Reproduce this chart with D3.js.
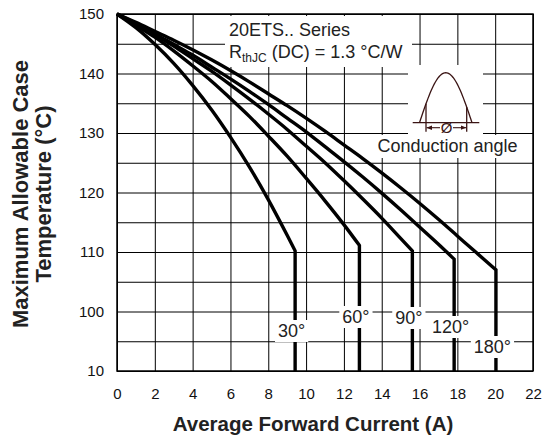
<!DOCTYPE html>
<html>
<head>
<meta charset="utf-8">
<script src="https://cdn.jsdelivr.net/npm/d3@7"></script>
<style>
  body { margin: 0; background: #fff; }
  svg { display: block; font-family: 'Liberation Sans', Arial, Helvetica, sans-serif; }
</style>
</head>
<body>
<div id="chart"></div>
<script>
// Conduction angles and the read-off curves (current in A, case temperature in °C).
const angles = ['30°', '60°', '90°', '120°', '180°'];

const current30 = [0, 1, 2, 3, 4, 5, 6, 7, 8, 9, 9.42];
const temp30 = [150, 147.7, 144.9, 141.7, 138.0, 133.9, 129.3, 124.3, 118.8, 112.8, 110.2];

const current60 = [0, 1, 2, 3, 4, 5, 6, 7, 8, 9, 10, 11, 12, 12.82];
const temp60 = [150, 148.1, 146.1, 143.8, 141.3, 138.7, 135.8, 132.8, 129.5, 126.1, 122.4, 118.6, 114.6, 111.1];

const current90 = [0, 1, 2, 3, 4, 5, 6, 7, 8, 9, 10, 11, 12, 13, 14, 15, 15.62];
const temp90 = [150, 148.3, 146.5, 144.6, 142.5, 140.4, 138.1, 135.7, 133.2, 130.6, 127.8, 125.0, 122.0, 118.9, 115.7, 112.3, 110.2];

const current120 = [0, 1, 2, 3, 4, 5, 6, 7, 8, 9, 10, 11, 12, 13, 14, 15, 16, 17, 17.83];
const temp120 = [150, 148.4, 146.7, 144.9, 143.1, 141.1, 139.1, 137.0, 134.8, 132.5, 130.2, 127.7, 125.2, 122.6, 119.9, 117.1, 114.2, 111.3, 108.8];

const current180 = [0, 1, 2, 3, 4, 5, 6, 7, 8, 9, 10, 11, 12, 13, 14, 15, 16, 17, 18, 19, 20.04];
const temp180 = [150, 148.6, 147.1, 145.6, 144.0, 142.3, 140.5, 138.6, 136.6, 134.6, 132.5, 130.3, 128.0, 125.7, 123.3, 120.8, 118.2, 115.5, 112.7, 109.9, 107.0];

const xTicks = [0, 2, 4, 6, 8, 10, 12, 14, 16, 18, 20, 22];
const yTicks = [90, 100, 110, 120, 130, 140, 150];
const yTickLabels = ['10', '100', '110', '120', '130', '140', '150'];

const seriesCurrent = [current30, current60, current90, current120, current180];
const seriesTemp = [temp30, temp60, temp90, temp120, temp180];

const W = 543, H = 447;
const pLeft = 117, pRight = 533, pTop = 14, pBottom = 371;

let svg = d3.select('#chart').append('svg')
    .attr('width', W)
    .attr('height', H);

svg.append('rect').attr('width', W).attr('height', H).attr('fill', '#fff');

let x = d3.scaleLinear().domain([0, 22]).range([pLeft, pRight]);
let y = d3.scaleLinear().domain([90, 150]).range([pBottom, pTop]);

// Grid
svg.append('g')
    .attr('class', 'grid')
    .attr('transform', 'translate(0,' + pBottom + ')')
    .call(d3.axisBottom(x).tickValues(d3.range(0, 23, 2)).tickSize(-(pBottom - pTop)).tickFormat(''))
    .call(g => g.select('.domain').remove());

svg.append('g')
    .attr('class', 'grid')
    .attr('transform', 'translate(' + pLeft + ',0)')
    .call(d3.axisLeft(y).tickValues(d3.range(90, 151, 5)).tickSize(-(pRight - pLeft)).tickFormat(''))
    .call(g => g.select('.domain').remove());

svg.selectAll('.grid line').attr('stroke', '#000').attr('stroke-width', 1);

// Frame
svg.append('rect')
    .attr('x', pLeft).attr('y', pTop)
    .attr('width', pRight - pLeft).attr('height', pBottom - pTop)
    .attr('fill', 'none').attr('stroke', '#000').attr('stroke-width', 1.5);

// Tick labels
let xAxis = svg.append('g')
    .attr('transform', 'translate(0,' + pBottom + ')')
    .call(d3.axisBottom(x).tickValues(xTicks).tickSize(0).tickPadding(17).tickFormat(d3.format('d')));
xAxis.select('.domain').remove();

let yAxis = svg.append('g')
    .attr('transform', 'translate(' + pLeft + ',0)')
    .call(d3.axisLeft(y).tickValues(yTicks).tickSize(0).tickPadding(13).tickFormat((d, i) => yTickLabels[i]));
yAxis.select('.domain').remove();

svg.selectAll('.tick text')
    .attr('font-family', "'Liberation Sans', Arial, sans-serif")
    .attr('font-size', 15)
    .attr('fill', '#111');

// Annotation boxes (white backgrounds over the grid)
svg.append('rect').attr('x', 225).attr('y', 16).attr('width', 187).attr('height', 51).attr('fill', '#fff');
svg.append('rect').attr('x', 408).attr('y', 65).attr('width', 75).attr('height', 70).attr('fill', '#fff');
svg.append('rect').attr('x', 370).attr('y', 135).attr('width', 155).attr('height', 23).attr('fill', '#fff');

// Curves
let line = d3.line()
    .x(d => x(d[0]))
    .y(d => y(d[1]))
    .curve(d3.curveMonotoneX);

seriesCurrent.forEach((cur, k) => {
  const pts = cur.map((c, i) => [c, seriesTemp[k][i]]);
  const last = pts[pts.length - 1];
  svg.append('path')
      .attr('d', line(pts) + 'L' + x(last[0]) + ',' + y(90))
      .attr('fill', 'none')
      .attr('stroke', '#000')
      .attr('stroke-width', 3.4)
      .attr('stroke-linejoin', 'miter');
});

// Angle labels on the vertical drops
const labelBase = [337, 323, 324, 333, 353];
angles.forEach((a, k) => {
  const cur = seriesCurrent[k];
  const cx = x(cur[cur.length - 1]) - 3.5;
  let g = svg.append('g');
  let t = g.append('text')
      .attr('x', cx).attr('y', labelBase[k])
      .attr('text-anchor', 'middle')
      .attr('font-size', 18)
      .attr('fill', '#222')
      .text(a);
  const bb = t.node().getBBox();
  g.insert('rect', 'text')
      .attr('x', bb.x - 3).attr('y', bb.y - 1)
      .attr('width', bb.width + 6).attr('height', bb.height + 2)
      .attr('fill', '#fff');
});

// Series text
svg.append('text')
    .attr('x', 229).attr('y', 36)
    .attr('font-size', 18).attr('fill', '#222')
    .text('20ETS.. Series');

let rth = svg.append('text')
    .attr('x', 229).attr('y', 58)
    .attr('font-size', 18).attr('fill', '#222');
rth.append('tspan').text('R');
rth.append('tspan').attr('font-size', 12).attr('dy', 4).text('thJC');
rth.append('tspan').attr('dy', -4).text(' (DC) = 1.3 °C/W');

// Conduction angle sketch
const wave = '#3a1414';
const wx0 = 419.5, wx1 = 472, wBase = 122.7, wAmp = 50;
let arc = d3.range(0, 1.0001, 0.02).map(t => [wx0 + t * (wx1 - wx0), wBase - wAmp * Math.sin(Math.PI * t)]);
svg.append('path')
    .attr('d', d3.line()(arc))
    .attr('fill', 'none').attr('stroke', wave).attr('stroke-width', 1.3);
svg.append('line')
    .attr('x1', 412.7).attr('x2', 479.3).attr('y1', wBase).attr('y2', wBase)
    .attr('stroke', wave).attr('stroke-width', 1.3);
[426, 466.7].forEach(cx => {
  const yy = wBase - wAmp * Math.sin(Math.PI * (cx - wx0) / (wx1 - wx0));
  svg.append('line')
      .attr('x1', cx).attr('x2', cx).attr('y1', yy).attr('y2', 131.7)
      .attr('stroke', wave).attr('stroke-width', 1.3);
});
svg.append('defs').append('marker')
    .attr('id', 'arr').attr('viewBox', '0 0 10 10')
    .attr('refX', 10).attr('refY', 5)
    .attr('markerWidth', 5).attr('markerHeight', 5)
    .attr('orient', 'auto')
    .append('path').attr('d', 'M0,1L10,5L0,9Z').attr('fill', wave);
svg.append('line')
    .attr('x1', 440).attr('x2', 426.5).attr('y1', 127.7).attr('y2', 127.7)
    .attr('stroke', wave).attr('stroke-width', 1.1).attr('marker-end', 'url(#arr)');
svg.append('line')
    .attr('x1', 453).attr('x2', 466.2).attr('y1', 127.7).attr('y2', 127.7)
    .attr('stroke', wave).attr('stroke-width', 1.1).attr('marker-end', 'url(#arr)');
svg.append('text')
    .attr('x', 446.5).attr('y', 133)
    .attr('text-anchor', 'middle')
    .attr('font-size', 15).attr('fill', wave)
    .text('Ø');

svg.append('text')
    .attr('x', 447.5).attr('y', 152)
    .attr('text-anchor', 'middle')
    .attr('font-size', 18).attr('fill', '#222')
    .text('Conduction angle');

// Axis titles
svg.append('text')
    .attr('x', 313).attr('y', 431)
    .attr('text-anchor', 'middle')
    .attr('font-size', 20.5).attr('font-weight', 'bold').attr('fill', '#222')
    .text('Average Forward Current (A)');

let yTitle = svg.append('text')
    .attr('transform', 'translate(0,194) rotate(-90)')
    .attr('text-anchor', 'middle')
    .attr('font-size', 22).attr('font-weight', 'bold').attr('fill', '#222');
yTitle.append('tspan').attr('x', 0).attr('y', 28).text('Maximum Allowable Case');
yTitle.append('tspan').attr('x', 0).attr('y', 51).text('Temperature (°C)');
</script>
</body>
</html>
